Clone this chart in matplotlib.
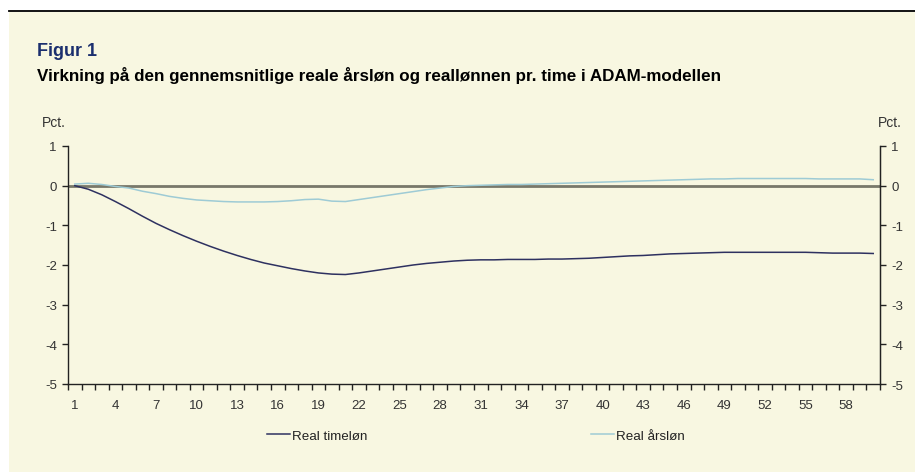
import matplotlib
matplotlib.use("Agg")
import matplotlib.pyplot as plt
from matplotlib.patches import Rectangle
from matplotlib.lines import Line2D
from matplotlib.ticker import FixedLocator, NullFormatter
import numpy as np

plt.rcParams['font.family'] = ['Liberation Sans', 'DejaVu Sans']
plt.rcParams['axes.unicode_minus'] = False

periods = list(range(1, 61))
xtick_labels = [str(v) for v in range(1, 59, 3)]

real_timelon = [0.00, -0.09, -0.23, -0.40, -0.58, -0.77, -0.95, -1.11, -1.26, -1.40,
                -1.53, -1.65, -1.76, -1.86, -1.95, -2.02, -2.09, -2.15, -2.20, -2.23,
                -2.24, -2.20, -2.15, -2.10, -2.05, -2.00, -1.96, -1.93, -1.90, -1.88,
                -1.87, -1.87, -1.86, -1.86, -1.86, -1.85, -1.85, -1.84, -1.83, -1.81,
                -1.79, -1.77, -1.76, -1.74, -1.72, -1.71, -1.70, -1.69, -1.68, -1.68,
                -1.68, -1.68, -1.68, -1.68, -1.68, -1.69, -1.70, -1.70, -1.70, -1.71]

real_arslon = [0.04, 0.06, 0.03, -0.02, -0.06, -0.14, -0.20, -0.27, -0.32, -0.36,
               -0.38, -0.40, -0.41, -0.41, -0.41, -0.40, -0.38, -0.35, -0.34, -0.39,
               -0.40, -0.35, -0.30, -0.25, -0.20, -0.15, -0.10, -0.06, -0.02, 0.00,
               0.01, 0.02, 0.03, 0.03, 0.04, 0.05, 0.06, 0.07, 0.08, 0.09,
               0.10, 0.11, 0.12, 0.13, 0.14, 0.15, 0.16, 0.17, 0.17, 0.18,
               0.18, 0.18, 0.18, 0.18, 0.18, 0.17, 0.17, 0.17, 0.17, 0.15]

yticks = [1, 0, -1, -2, -3, -4, -5]

W, H = 915, 477
fig = plt.figure(figsize=(W / 100, H / 100), dpi=100, facecolor='white')

bg = '#F8F7E1'
fig.add_artist(Rectangle((9 / W, 4 / H), 1 - 9 / W, (H - 13 - 4) / H,
                         transform=fig.transFigure, facecolor=bg,
                         edgecolor='none', zorder=-10))
fig.add_artist(Line2D([9 / W, 1], [1 - 12 / H, 1 - 12 / H], transform=fig.transFigure,
                      color='black', lw=1.3, zorder=-5))

fig.text(37 / W, 1 - 56.5 / H, 'Figur 1', fontsize=13, fontweight='bold',
         color='#1B2F6E', ha='left', va='baseline')
fig.text(37 / W, 1 - 81 / H,
         'Virkning på den gennemsnitlige reale årsløn og reallønnen pr. time i ADAM-modellen',
         fontsize=12.25, fontweight='bold', color='black', ha='left', va='baseline')
fig.text(42 / W, 1 - 127 / H, 'Pct.', fontsize=10, color='#333333', ha='left', va='baseline')
fig.text(878 / W, 1 - 127 / H, 'Pct.', fontsize=10, color='#333333', ha='left', va='baseline')

left, right = 68 / W, 880 / W
bottom, top = 1 - 385 / H, 1 - 147 / H
ax = fig.add_axes([left, bottom, right - left, top - bottom])
ax.set_facecolor('none')

dark = '#2E3160'
light = '#9ECBD5'

ax.axhline(0, color='#78786A', lw=2.0, zorder=1)
ax.plot(periods, real_timelon, color=dark, lw=1.1, zorder=3, label='Real timeløn')
ax.plot(periods, real_arslon, color=light, lw=1.1, zorder=3, label='Real årsløn')

ax.set_xlim(0.5, 60.5)
ax.set_ylim(-5, 1)

ax.spines['top'].set_visible(False)
for s in ['left', 'right', 'bottom']:
    ax.spines[s].set_color('#222222')
    ax.spines[s].set_linewidth(1.0)

ax.xaxis.set_major_locator(FixedLocator(list(range(1, 59, 3))))
ax.set_xticklabels(xtick_labels)
ax.xaxis.set_minor_locator(FixedLocator([v + 0.5 for v in range(0, 61)]))
ax.xaxis.set_minor_formatter(NullFormatter())
ax.tick_params(axis='x', which='major', length=0, pad=10.5, labelsize=9.5, labelcolor='#333333')
ax.tick_params(axis='x', which='minor', length=4, width=1.0, color='#222222', direction='out')

ax.set_yticks(yticks)
ax.tick_params(axis='y', which='major', length=4, width=1.0, color='#222222',
               labelsize=9.5, labelcolor='#333333', pad=4, direction='out')

ax2 = ax.twinx()
ax2.set_ylim(-5, 1)
ax2.set_yticks(yticks)
ax2.tick_params(axis='y', which='major', length=4, width=1.0, color='#222222',
                labelsize=9.5, labelcolor='#333333', pad=4, direction='out')
for s in ['top', 'left', 'bottom']:
    ax2.spines[s].set_visible(False)
ax2.spines['right'].set_color('#222222')

h, l = ax.get_legend_handles_labels()
fig.legend(h, l, loc='center', bbox_to_anchor=(476 / W, 1 - 437 / H), ncol=2,
           frameon=False, fontsize=9.6, handlelength=1.7, handletextpad=0.15,
           columnspacing=16.8, labelcolor='#222222')

fig.savefig('out.png', dpi=100, facecolor='white')
